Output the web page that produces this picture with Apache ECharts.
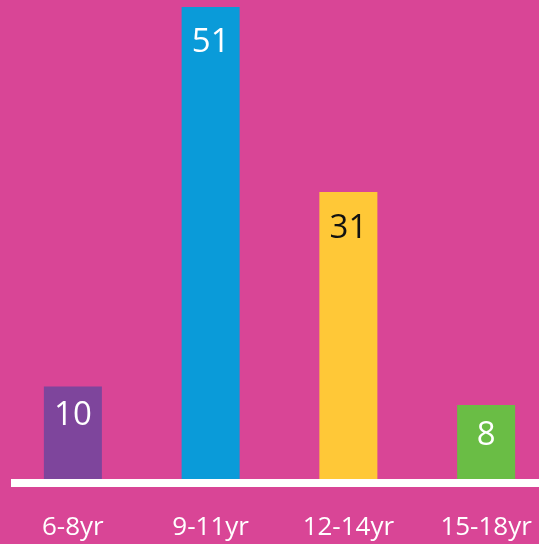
<!DOCTYPE html>
<html>
<head>
<meta charset="utf-8">
<script src="https://cdn.jsdelivr.net/npm/echarts@6/dist/echarts.min.js"></script>
<style>
  html, body { margin: 0; padding: 0; background: #d94596; }
  #chart { width: 539px; height: 544px; }
</style>
</head>
<body>
<div id="chart"></div>
<script>
// age groups and counts
const ageGroups = ['6-8yr', '9-11yr', '12-14yr', '15-18yr'];
const counts = [10, 51, 31, 8];
const barColors = ['#7e459c', '#0a9bd9', '#ffc837', '#6abd45'];
const labelColors = ['#ffffff', '#ffffff', '#111111', '#ffffff'];
const labelGaps = [13, 19, 20, 14];

const chart = echarts.init(document.getElementById('chart'));
chart.setOption({
    backgroundColor: '#d94596',
    animation: false,
    grid: {
        left: 4,
        width: 551,
        top: 7,
        bottom: 65,
        outerBoundsMode: 'none',
        containLabel: false,
    },
    xAxis: {
        type: 'category',
        data: ageGroups,
        axisLine: { show: false },
        axisTick: { show: false },
        axisLabel: {
            color: '#fff',
            fontFamily: 'Open Sans',
            fontSize: 26,
            margin: 36,
        },
    },
    yAxis: {
        type: 'value',
        min: 0,
        max: 51,
        show: false,
        splitLine: { show: false },
    },
    series: [
        {
            type: 'bar',
            barWidth: 58,
            data: counts.map((v, i) => ({
                value: v,
                itemStyle: { color: barColors[i] },
                label: { color: labelColors[i], distance: labelGaps[i] },
            })),
            label: {
                show: true,
                position: 'insideTop',
                fontFamily: 'Open Sans',
                fontSize: 33,
            },
        },
    ],
    // white base line
    graphic: [
        {
            type: 'rect',
            shape: { x: 11, y: 479, width: 528, height: 8 },
            style: { fill: '#fff' },
            z: 10,
        },
    ],
});
</script>
</body>
</html>
